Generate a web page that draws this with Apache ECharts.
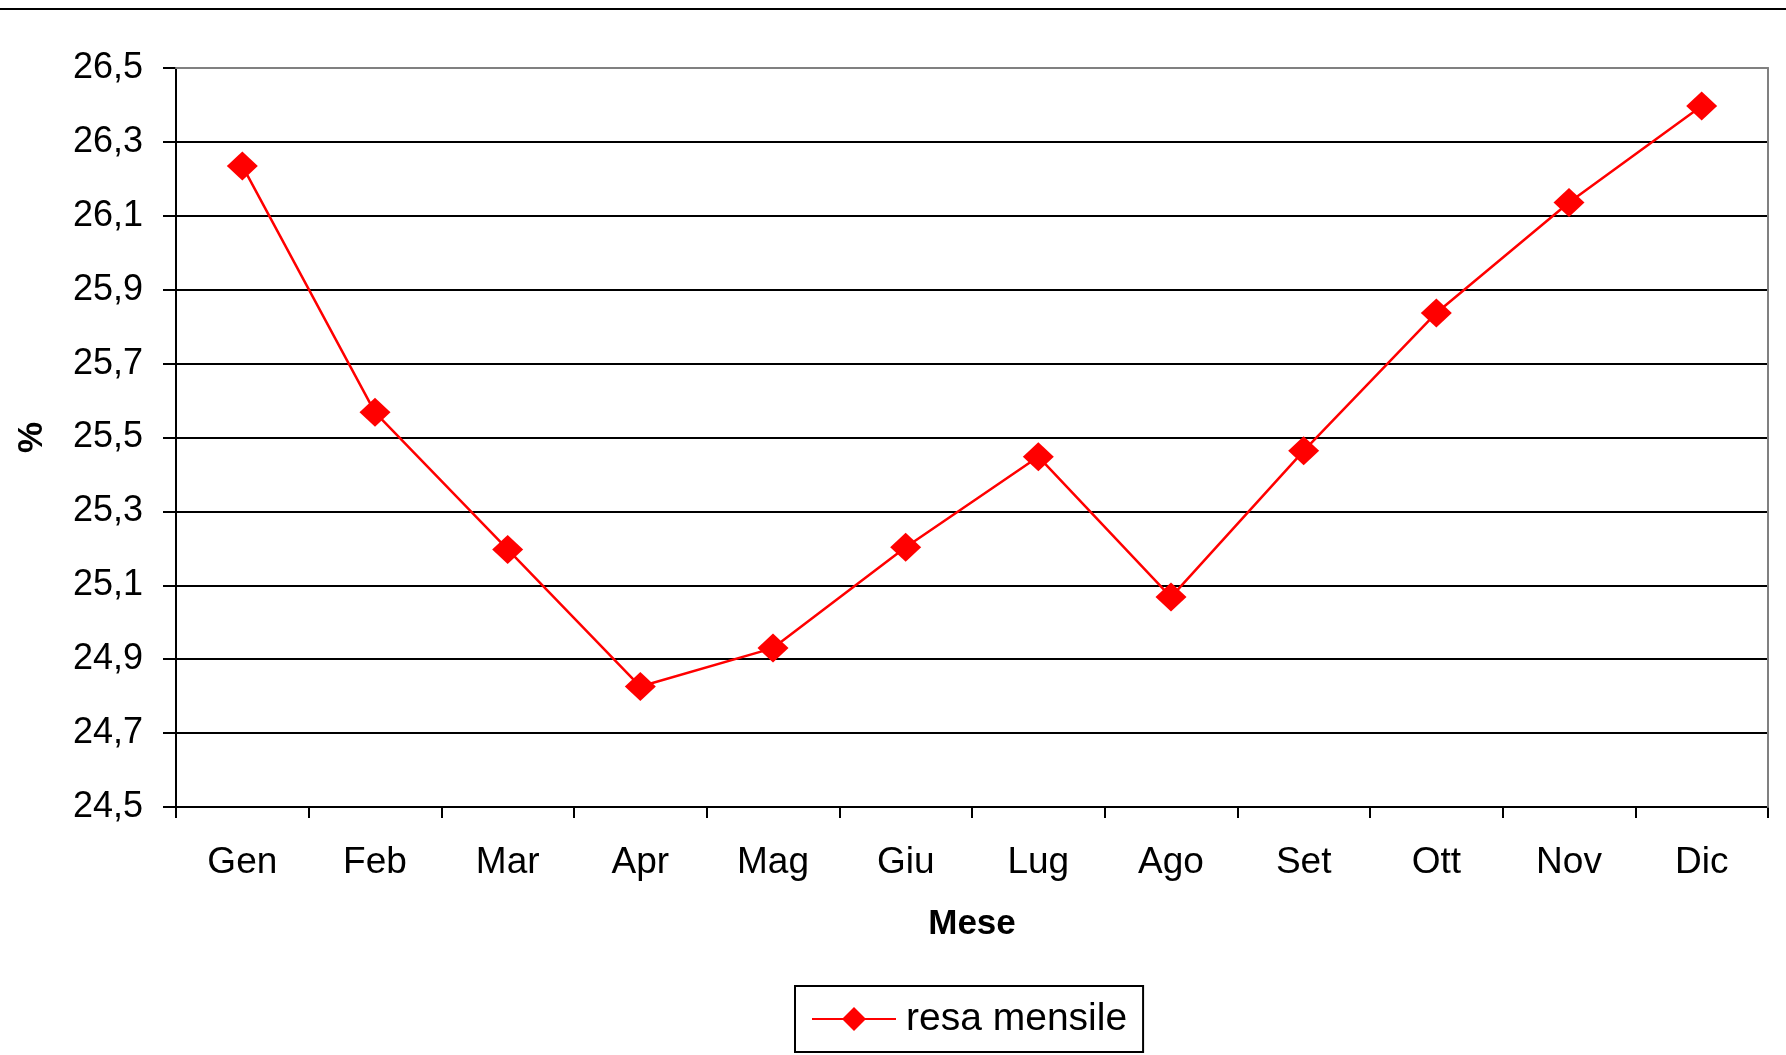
<!DOCTYPE html>
<html>
<head>
<meta charset="utf-8">
<script src="https://cdn.jsdelivr.net/npm/echarts@6/dist/echarts.min.js"></script>
<style>
  html, body { margin: 0; padding: 0; background: #fff; }
  #chart { width: 1786px; height: 1055px; }
</style>
</head>
<body>
<div id="chart"></div>
<script>
  /* Resa mensile (%) per mese */
  var MESI = ["Gen", "Feb", "Mar", "Apr", "Mag", "Giu", "Lug", "Ago", "Set", "Ott", "Nov", "Dic"];
  var RESA = [26.235, 25.568, 25.197, 24.826, 24.93, 25.203, 25.448, 25.068, 25.464, 25.837, 26.136, 26.397];
  var Y_TICKS = [24.5, 24.7, 24.9, 25.1, 25.3, 25.5, 25.7, 25.9, 26.1, 26.3, 26.5];
  var Y_MIN = 24.5, Y_MAX = 26.5;

  var FONT = "'Liberation Sans', Arial, sans-serif";
  var RED = "#ff0000", GRAY = "#808080";

  function comma(v) { return v.toFixed(1).replace(".", ","); }

  var chart = echarts.init(document.getElementById("chart"));
  chart.setOption({
    animation: false,
    backgroundColor: "#fff",
    textStyle: { fontFamily: FONT, color: "#000" },
    graphic: [{
      type: "line", z: 10,
      shape: { x1: 0, y1: 9, x2: 1786, y2: 9 },
      style: { stroke: "#000", lineWidth: 2 }
    }],
    grid: { left: 176, top: 68, right: 18, bottom: 248 },
    legend: {
      left: 795, top: 986,
      padding: [12, 16, 12, 16],
      borderColor: "#000", borderWidth: 2,
      itemWidth: 84, itemHeight: 30,
      textStyle: { fontFamily: FONT, fontSize: 39, color: "#000", lineHeight: 40, padding: [2, 0, 0, 5] },
      data: ["resa mensile"]
    },
    xAxis: [{
      type: "category",
      data: MESI,
      boundaryGap: true,
      name: "Mese",
      nameLocation: "middle",
      nameGap: 100,
      nameTextStyle: { fontFamily: FONT, fontSize: 35, fontWeight: "bold", color: "#000" },
      axisLine: { lineStyle: { color: "#000", width: 2 } },
      axisTick: { show: true, alignWithLabel: false, length: 11, lineStyle: { color: "#000", width: 2 } },
      axisLabel: { fontFamily: FONT, fontSize: 37, color: "#000", margin: 37 },
      splitLine: { show: false }
    }, {
      type: "category",
      data: MESI,
      position: "top",
      z: 5,
      axisLine: { lineStyle: { color: GRAY, width: 2 } },
      axisTick: { show: false },
      axisLabel: { show: false },
      splitLine: { show: false }
    }],
    yAxis: [{
      type: "value",
      min: Y_MIN, max: Y_MAX,
      name: "%",
      nameLocation: "middle",
      nameGap: 126,
      nameRotate: 90,
      nameTextStyle: { fontFamily: FONT, fontSize: 35, fontWeight: "bold", color: "#000" },
      axisLine: { show: true, lineStyle: { color: "#000", width: 2 } },
      axisTick: { show: true, length: 13, customValues: Y_TICKS, lineStyle: { color: "#000", width: 2 } },
      axisLabel: { fontFamily: FONT, fontSize: 36, color: "#000", margin: 33, customValues: Y_TICKS, formatter: comma },
      splitLine: { show: true, lineStyle: { color: "#000", width: 2 } }
    }, {
      type: "value",
      min: Y_MIN, max: Y_MAX,
      position: "right",
      z: 5,
      axisLine: { show: true, lineStyle: { color: GRAY, width: 2 } },
      axisTick: { show: false },
      axisLabel: { show: false },
      splitLine: { show: false }
    }],
    series: [{
      name: "resa mensile",
      type: "line",
      xAxisIndex: 0, yAxisIndex: 0,
      data: RESA,
      symbol: "diamond",
      symbolSize: [31, 29],
      z: 6,
      itemStyle: { color: RED },
      lineStyle: { color: RED, width: 2.5 }
    }]
  });
</script>
</body>
</html>
